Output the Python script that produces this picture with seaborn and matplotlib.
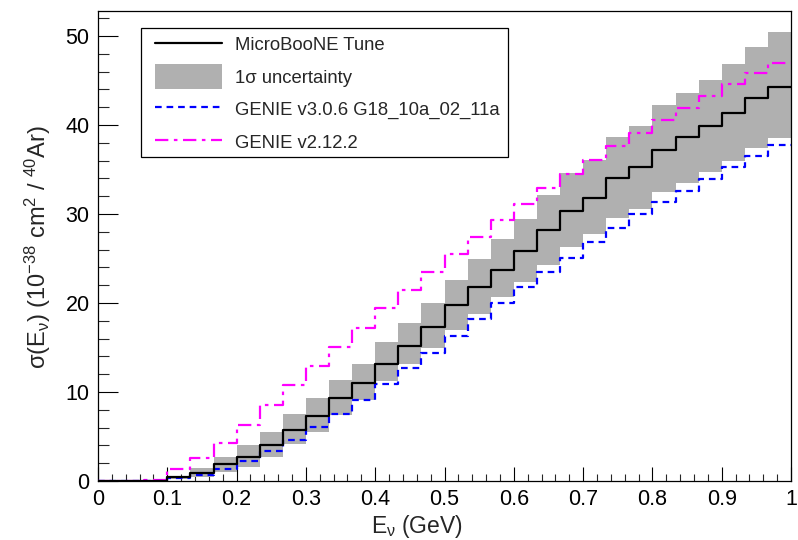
import numpy as np
import pandas as pd
import matplotlib
matplotlib.use("Agg")
import matplotlib.pyplot as plt
from matplotlib.ticker import MultipleLocator, FuncFormatter
from matplotlib.lines import Line2D
from matplotlib.patches import Patch, Rectangle
from matplotlib.legend_handler import HandlerPatch
import seaborn as sns

# ---- data (30 bins of width 1/30 GeV from 0 to 1) ----
bin_edges = np.linspace(0.0, 1.0, 31)
tune = [0, 0, 0, 0.5, 0.9, 1.9, 2.7, 4.0, 5.7, 7.3, 9.3, 11.0, 13.1, 15.2, 17.3,
        19.8, 21.8, 23.7, 25.8, 28.2, 30.3, 31.8, 34.0, 35.3, 37.2, 38.6, 39.9,
        41.3, 43.0, 44.3]
band_low = [0, 0, 0, 0.2, 0.5, 1.0, 1.6, 2.7, 4.2, 5.5, 7.4, 9.1, 11.2, 13.1, 14.9,
            17.0, 18.8, 20.7, 22.4, 24.3, 26.3, 27.7, 29.6, 30.6, 32.5, 33.5, 34.75,
            35.9, 37.4, 38.5]
band_high = [0, 0, 0, 0.6, 1.5, 2.7, 4.0, 5.5, 7.5, 9.3, 11.4, 13.1, 15.6, 17.7, 20.0,
             22.6, 24.9, 27.2, 29.4, 32.1, 34.6, 36.1, 38.7, 39.9, 42.2, 43.6, 45.1,
             46.9, 48.7, 50.4]
genie_v3 = [0, 0, 0, 0.3, 0.7, 1.35, 2.25, 3.4, 4.6, 6.1, 7.5, 9.1, 10.9, 12.7, 14.4,
            16.3, 18.2, 20.0, 21.8, 23.5, 25.1, 26.8, 28.4, 30.0, 31.3, 32.6, 33.9,
            35.3, 36.5, 37.75]
genie_v2 = [0, 0, 0.1, 1.3, 2.6, 4.3, 6.3, 8.5, 10.75, 12.9, 15.1, 17.2, 19.4, 21.5,
            23.5, 25.5, 27.4, 29.3, 31.1, 32.9, 34.5, 36.1, 37.6, 39.1, 40.6, 41.9,
            43.3, 44.6, 45.8, 47.0]
labels = ["MicroBooNE Tune", "1σ uncertainty", "GENIE v3.0.6 G18_10a_02_11a", "GENIE v2.12.2"]

sns.set_theme(style="ticks")
plt.rcParams["font.family"] = ["Liberation Sans", "DejaVu Sans"]
plt.rcParams["mathtext.fontset"] = "custom"
plt.rcParams["mathtext.rm"] = "Liberation Sans"
plt.rcParams["mathtext.it"] = "Liberation Sans"
plt.rcParams["mathtext.bf"] = "Liberation Sans:bold"

W, H = 798, 540
fig = plt.figure(figsize=(W / 100, H / 100), dpi=100)
ax = fig.add_axes([98 / W, 1 - 481 / H, 693 / W, 470 / H])


def ext(v):
    return list(v) + [v[-1]]


band_color = "#b0b0b0"
ax.fill_between(bin_edges, ext(band_low), ext(band_high), step="post",
                color=band_color, linewidth=0, zorder=1)

df = pd.DataFrame({"E": bin_edges, "tune": ext(tune), "v3": ext(genie_v3), "v2": ext(genie_v2)})
sns.lineplot(data=df, x="E", y="v2", ax=ax, drawstyle="steps-post", color="#ff00ff",
             linewidth=1.6, zorder=3)
ax.lines[-1].set_dashes([6, 2.5, 1.6, 2.5])
sns.lineplot(data=df, x="E", y="v3", ax=ax, drawstyle="steps-post", color="#0000ff",
             linewidth=1.6, zorder=3)
ax.lines[-1].set_dashes([3, 2.2])
sns.lineplot(data=df, x="E", y="tune", ax=ax, drawstyle="steps-post", color="black",
             linewidth=1.6, zorder=4)

ax.set_xlim(0, 1)
ax.set_ylim(0, 52.8)

ax.xaxis.set_major_locator(MultipleLocator(0.1))
ax.xaxis.set_minor_locator(MultipleLocator(0.02))
ax.yaxis.set_major_locator(MultipleLocator(10))
ax.yaxis.set_minor_locator(MultipleLocator(2))
ax.xaxis.set_major_formatter(FuncFormatter(lambda v, p: f"{v:g}"))
ax.yaxis.set_major_formatter(FuncFormatter(lambda v, p: f"{v:g}"))

ax.tick_params(axis="x", which="major", direction="in", length=10, width=0.8,
               labelsize=15.5, pad=6, top=False, colors="black")
ax.tick_params(axis="x", which="minor", direction="in", length=5, width=0.8, top=False)
ax.tick_params(axis="y", which="major", direction="in", length=14.4, width=0.8,
               labelsize=15.5, pad=6, right=False, colors="black")
ax.tick_params(axis="y", which="minor", direction="in", length=7.9, width=0.8, right=False)
for s in ax.spines.values():
    s.set_color("black")
    s.set_linewidth(0.9)
    s.set_visible(True)

ax.set_xlabel(r"$E_{\nu}$ (GeV)", fontsize=16.5)
ax.set_ylabel(r"$\sigma(E_{\nu})$ (10$^{-38}$ cm$^{2}$ / $^{40}$Ar)", fontsize=17)
ax.xaxis.set_label_coords(0.46, -0.068)
ax.yaxis.set_label_coords(-0.065, 0.498)


def tall_patch(legend, orig_handle, xdescent, ydescent, width, height, fontsize):
    ext_h = 0.2 * height
    return Rectangle((-xdescent, -ydescent - ext_h), width, height + 2 * ext_h)


handles = [
    Line2D([], [], color="black", linewidth=1.6),
    Patch(facecolor=band_color, edgecolor="none"),
    Line2D([], [], color="#0000ff", linewidth=1.6, dashes=[3, 2.2]),
    Line2D([], [], color="#ff00ff", linewidth=1.6, dashes=[6, 2.5, 1.6, 2.5]),
]
leg = ax.legend(handles, labels, loc="upper left",
                bbox_to_anchor=((155 - 98) / 693, (481 - 35) / 470),
                borderaxespad=0, borderpad=0, fontsize=13.3,
                handlelength=3.6, handleheight=1.1, handletextpad=0.75,
                labelspacing=0.72, frameon=False,
                handler_map={Patch: HandlerPatch(patch_func=tall_patch)})
leg.set_zorder(5)

# legend frame box
frame = Rectangle(((141 - 98) / 693, (481 - 157) / 470), 367 / 693, 129 / 470,
                  transform=ax.transAxes, facecolor="white", edgecolor="black",
                  linewidth=0.9, zorder=4.5)
ax.add_patch(frame)

fig.savefig("out.png", dpi=100)
